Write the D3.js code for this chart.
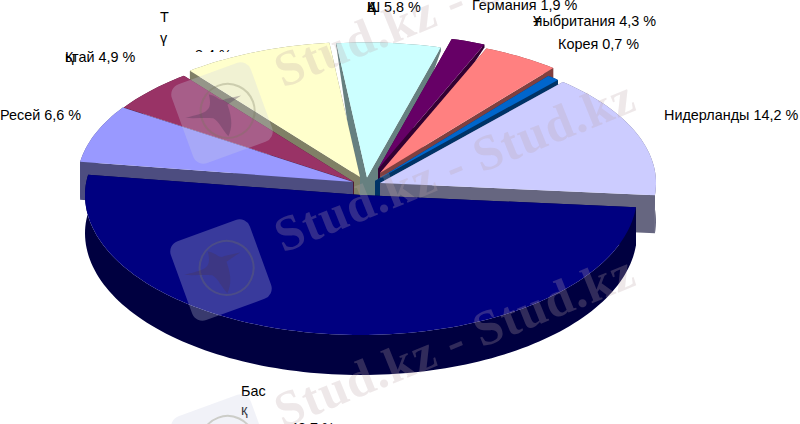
<!DOCTYPE html>
<html><head><meta charset="utf-8">
<script src="https://cdnjs.cloudflare.com/ajax/libs/d3/7.8.5/d3.min.js"></script>
<style>html,body{margin:0;padding:0;background:#fff;overflow:hidden}svg{display:block}</style>
</head><body>
<svg id="c" width="800" height="424"></svg>
<script>
const categories=["Нидерланды","Басқалар","Ресей","Қытай","Түркия","АҚШ","Германия","Ұлыбритания","Корея"];
const values=[14.2,48.7,6.6,4.9,8.4,5.8,1.9,4.3,0.7];
const topColors=["#CCCCFF","#000080","#9999FF","#993366","#FFFFCC","#CCFFFF","#660066","#FF8080","#0066CC"];
const sideColors=["#666680","#000040","#4D4D80","#4D1A33","#808066","#668080","#330033","#804040","#003366"];
const wmLines=["Stud.kz - Stud.kz","Stud.kz - Stud.kz","Stud.kz - Stud.kz"];

// layout
const apexX=[380,361,353,354,360,367,378,380,375];
const apexY=[183,195,182,182,177,177.5,169,173,181];
const apexDepth=[38,38,38,38,38,80,38,38,38];
const drawOrder=[5,6,7,8,4,3,0,2,1];
const svg=d3.select("#c");
const Rx=276,RyBack=135,RyFront=140;
const rad=d=>d*Math.PI/180;
const pie=d3.pie().sort(null).startAngle(rad(41.5)).endAngle(rad(401.5));
const arcs=pie(values);
const lineGen=d3.line().x(d=>d[0]).y(d=>d[1]);
const clamp01=v=>Math.max(0,Math.min(1,v));
const depth=y=>2+36*clamp01((y-40)/120)+2*clamp01((y-200)/130);

function rimPoint(ap,a){
  const c=Math.cos(a);
  return [ap[0]+Rx*Math.sin(a),ap[1]-(c>0?RyBack:RyFront)*c];
}
function down(p){return [p[0],p[1]+depth(p[1])];}

const layer=svg.append("g");
drawOrder.forEach(i=>{
  const s=arcs[i];
  const ap=[apexX[i],apexY[i]];
  const apDown=[ap[0],ap[1]+apexDepth[i]];
  const n=Math.max(4,Math.ceil((s.endAngle-s.startAngle)/rad(1.5)));
  const rim=d3.range(n+1).map(k=>rimPoint(ap,s.startAngle+(s.endAngle-s.startAngle)*k/n));
  const g=layer.append("g").attr("class","slice").attr("data-cat",categories[i]);
  const side=sideColors[i];
  [rim[0],rim[n]].forEach(p=>{
    g.append("path").attr("d",lineGen([ap,p,down(p),apDown])+"Z").attr("fill",side);
  });
  g.append("path").attr("d",lineGen(rim.concat(rim.map(down).reverse()))+"Z").attr("fill",side);
  g.append("path").attr("d",lineGen([ap].concat(rim))+"Z").attr("fill",topColors[i]);
});

// Labels
const defs=svg.append("defs");
defs.append("clipPath").attr("id","clipT").append("rect").attr("x",180).attr("y",0).attr("width",80).attr("height",52);
const lab=svg.append("g").attr("font-family","'Liberation Sans',Arial,sans-serif").attr("font-size",14.4).attr("fill","#000");
const plain=[
 ["Нидерланды 14,2 %",664,120],
 ["Корея 0,7 %",558,49],
 ["Германия 1,9 %",472,10],
 ["Ресей 6,6 %",0,120],
 ["Т",160,22],["ү",160,43],
 ["Бас",241,396],["қ",241,415],["48,7 %",290,433]
];
plain.forEach(d=>lab.append("text").attr("x",d[1]).attr("y",d[2]).text(d[0]));
lab.append("text").attr("x",195).attr("y",60).attr("clip-path","url(#clipT)").text("8,4 %");
function overlap(parts,y){
  const t=lab.append("text").attr("y",y);
  parts.forEach(p=>t.append("tspan").attr("x",p[1]).text(p[0]));
}
overlap([["Қ",65],["ы",65],["тай 4,9 %",72]],62);
overlap([["А",367],["Қ",367],["Ш",367],[" 5,8 %",380]],12);
overlap([["Ұ",533],["лыбритания 4,3 %",534]],26);

// Site watermark
const wm=svg.append("g").attr("pointer-events","none");
const wmPos=[[283,88],[283,253],[283,428]];
wmLines.forEach((t,i)=>{
  wm.append("text").attr("transform",`translate(${wmPos[i][0]},${wmPos[i][1]}) rotate(-22)`)
    .attr("font-family","'Liberation Serif',serif").attr("font-weight","bold").attr("font-size",50)
    .attr("fill","rgba(190,165,170,0.26)").attr("letter-spacing",1).text(t);
});
[[222,113],[221,270],[222,445]].forEach(p=>{
  const g=wm.append("g").attr("transform",`translate(${p[0]},${p[1]}) rotate(-20)`);
  g.append("rect").attr("x",-42).attr("y",-42).attr("width",84).attr("height",84).attr("rx",11)
    .attr("fill","rgba(205,210,230,0.28)");
  g.append("circle").attr("cx",6).attr("cy",0).attr("r",27).attr("fill","none")
    .attr("stroke","rgba(120,120,90,0.3)").attr("stroke-width",2);
  g.append("path").attr("d","M-36,-8 C-15,-6 -8,-4 -6,-22 C2,-18 2,-10 8,-12 L24,-10 L8,-6 C8,10 4,18 -2,24 C-6,14 -6,6 -10,2 C-18,-2 -28,-4 -36,-8Z")
    .attr("fill","rgba(70,50,80,0.32)");
});
</script>
</body></html>
